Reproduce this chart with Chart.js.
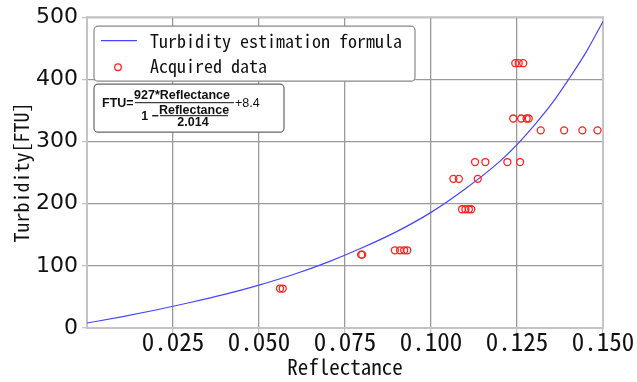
<!DOCTYPE html>
<html>
<head>
<meta charset="utf-8">
<script src="https://cdn.jsdelivr.net/npm/chart.js@4.4.1/dist/chart.umd.min.js"></script>
<style>
  html, body { margin: 0; padding: 0; background: #fff; }
  #wrap { width: 637px; height: 382px; }
</style>
</head>
<body>
<div id="wrap"><canvas id="chart"></canvas></div>
<script>
// curve (Reflectance -> FTU)
const curveR   = [0, 0.01, 0.02, 0.03, 0.04, 0.05, 0.06, 0.07, 0.08, 0.09, 0.10, 0.11, 0.12, 0.125, 0.13, 0.135, 0.14, 0.145, 0.15];
const curveFTU = [8, 18, 29, 41, 54, 69, 86, 106, 129, 155, 186, 224, 268, 295, 326, 360, 400, 443, 493];

// measured points
const dataR   = [0.0561, 0.0569, 0.0797, 0.0800, 0.0895, 0.0910, 0.0922, 0.0931,
                 0.1090, 0.1100, 0.1110, 0.1117, 0.1065, 0.1081, 0.1136,
                 0.1128, 0.1158, 0.1222, 0.1259, 0.1319, 0.1387, 0.1440, 0.1484,
                 0.1239, 0.1262, 0.1278, 0.1284, 0.1245, 0.1255, 0.1268];
const dataFTU = [63.5, 63.5, 118, 118, 125, 125, 125, 125,
                 191, 191, 191, 191, 240, 240, 240,
                 267, 267, 267, 267, 318, 318, 318, 318,
                 337, 337, 337, 337, 426, 426, 426];

const xTicks = [0.025, 0.050, 0.075, 0.100, 0.125, 0.150];
const yTicks = [0, 100, 200, 300, 400, 500];

const MONO = '"Noto Sans Mono CJK JP", "Noto Sans CJK JP", "DejaVu Sans Mono", monospace';
const SANS = '"Liberation Sans", Arial, sans-serif';

const toPts = (xs, ys) => xs.map((x, i) => ({ x, y: ys[i] }));

// legend + formula box drawn inside the plot, top left
const boxesPlugin = {
    id: 'boxes',
    afterDraw(chart) {
        const { ctx, chartArea: a } = chart;
        const ds = chart.data.datasets;
        ctx.save();

        // legend frame
        const lx = a.left + 7, ly = a.top + 9;
        ctx.beginPath();
        ctx.roundRect(lx, ly, 321, 55, 4);
        ctx.fillStyle = '#fff';
        ctx.fill();
        ctx.strokeStyle = '#888';
        ctx.lineWidth = 1.2;
        ctx.stroke();

        ctx.strokeStyle = ds[0].borderColor;
        ctx.lineWidth = 1.2;
        ctx.beginPath();
        ctx.moveTo(lx + 7, ly + 14.5);
        ctx.lineTo(lx + 43, ly + 14.5);
        ctx.stroke();

        ctx.strokeStyle = ds[1].borderColor;
        ctx.lineWidth = 1.3;
        ctx.beginPath();
        ctx.arc(lx + 24, ly + 41, 3.3, 0, Math.PI * 2);
        ctx.stroke();

        ctx.fillStyle = '#111';
        ctx.font = '18px ' + MONO;
        ctx.textBaseline = 'middle';
        ctx.fillText(ds[0].label, lx + 56, ly + 15);
        ctx.fillText(ds[1].label, lx + 56, ly + 40);

        // formula frame
        const fx = a.left + 7, fy = a.top + 67;
        ctx.beginPath();
        ctx.roundRect(fx, fy, 190, 48, 4);
        ctx.fillStyle = '#fff';
        ctx.fill();
        ctx.strokeStyle = '#666';
        ctx.lineWidth = 1.2;
        ctx.stroke();

        ctx.fillStyle = '#111';
        ctx.strokeStyle = '#111';
        ctx.lineWidth = 1;
        ctx.font = 'bold 12.5px ' + SANS;
        ctx.textAlign = 'left';
        ctx.fillText('FTU=', fx + 8, fy + 19);
        ctx.textAlign = 'center';
        ctx.fillText('927*Reflectance', fx + 88, fy + 11);
        ctx.beginPath();
        ctx.moveTo(fx + 41, fy + 18.5); ctx.lineTo(fx + 140, fy + 18.5);
        ctx.stroke();
        ctx.fillText('1 \u2212', fx + 56, fy + 32);
        ctx.fillText('Reflectance', fx + 100, fy + 26);
        ctx.beginPath();
        ctx.moveTo(fx + 66, fy + 31.5); ctx.lineTo(fx + 134, fy + 31.5);
        ctx.stroke();
        ctx.fillText('2.014', fx + 99, fy + 38);
        ctx.textAlign = 'left';
        ctx.font = '12.5px ' + SANS;
        ctx.fillText('+8.4', fx + 141, fy + 19);

        ctx.restore();
    }
};

// light frame around the plot area
const framePlugin = {
    id: 'frame',
    beforeDatasetsDraw(chart) {
        const { ctx, chartArea: a } = chart;
        ctx.save();
        ctx.strokeStyle = '#c4c4c4';
        ctx.lineWidth = 2;
        ctx.strokeRect(a.left, a.top, a.right - a.left, a.bottom - a.top);
        ctx.restore();
    }
};

new Chart(document.getElementById('chart'), {
    type: 'scatter',
    data: {
        datasets: [
            {
                label: 'Turbidity estimation formula',
                data: toPts(curveR, curveFTU),
                showLine: true,
                borderColor: '#4646ff',
                borderWidth: 1.2,
                pointRadius: 0,
                cubicInterpolationMode: 'monotone',
                order: 2
            },
            {
                label: 'Acquired data',
                data: toPts(dataR, dataFTU),
                showLine: false,
                borderColor: '#ff2020',
                backgroundColor: 'rgba(0,0,0,0)',
                borderWidth: 1.3,
                pointRadius: 3.5,
                order: 1
            }
        ]
    },
    options: {
        responsive: true,
        maintainAspectRatio: false,
        animation: false,
        layout: { padding: { top: 16, right: 34, left: 0, bottom: 0 } },
        plugins: {
            legend: { display: false },
            tooltip: { enabled: false }
        },
        scales: {
            x: {
                type: 'linear',
                min: 0,
                max: 0.15,
                afterBuildTicks: s => { s.ticks = xTicks.map(v => ({ value: v })); },
                afterFit: s => { s.height = 54; },
                grid: { color: '#9a9a9a', lineWidth: 1.3, tickLength: 5, tickColor: '#c4c4c4' },
                border: { color: '#c4c4c4', width: 2 },
                ticks: {
                    font: { family: MONO, size: 25 },
                    color: '#111',
                    padding: -7,
                    maxRotation: 0,
                    callback: v => v.toFixed(3)
                },
                title: {
                    display: true,
                    text: 'Reflectance',
                    font: { family: MONO, size: 21 },
                    color: '#111',
                    padding: { top: 0, bottom: 2 }
                }
            },
            y: {
                min: 0,
                max: 500,
                afterBuildTicks: s => { s.ticks = yTicks.map(v => ({ value: v })); },
                afterFit: s => { s.width = 87; },
                grid: { color: '#9a9a9a', lineWidth: 1.3, tickLength: 5, tickColor: '#c4c4c4' },
                border: { color: '#c4c4c4', width: 2 },
                ticks: {
                    font: { family: '"DejaVu Sans", sans-serif', size: 22 },
                    color: '#111',
                    padding: 4
                },
                title: {
                    display: true,
                    text: 'Turbidity[FTU]',
                    font: { family: MONO, size: 20 },
                    color: '#111',
                    padding: { top: 9, bottom: 0 }
                }
            }
        }
    },
    plugins: [framePlugin, boxesPlugin]
});
</script>
</body>
</html>
